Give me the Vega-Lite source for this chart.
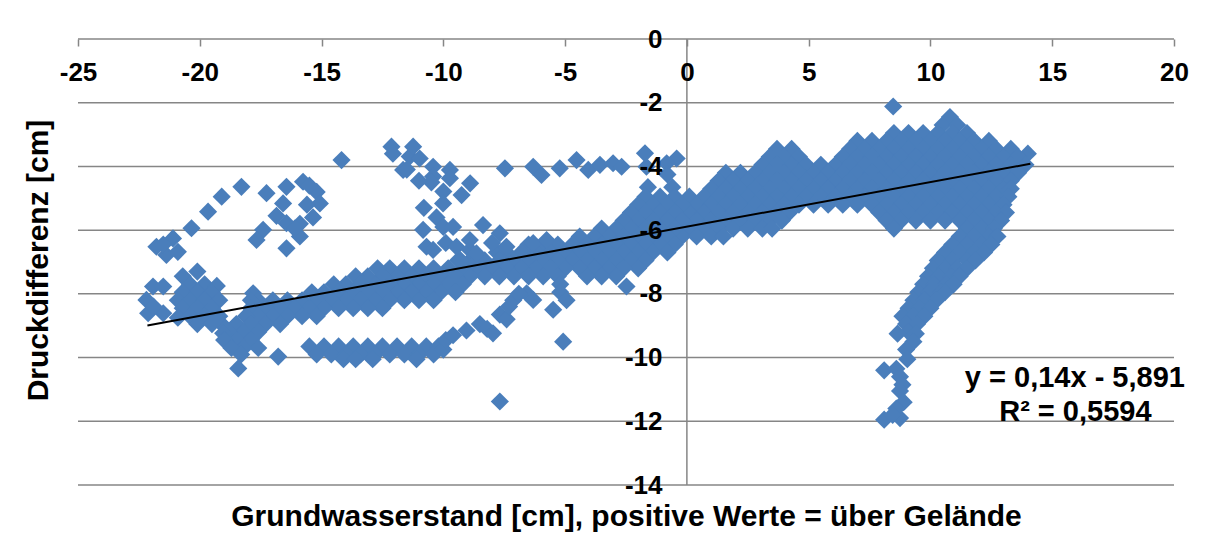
{
"$schema":"https://vega.github.io/schema/vega-lite/v6.json",
"width":1096,"height":446,
"autosize":{"type":"none"},
"padding":{"left":78,"top":39,"right":40,"bottom":63},
"background":"white",
"config":{"view":{"stroke":null},"font":"Liberation Sans"},
"datasets":{
"grid":[{"y":-14},{"y":-12},{"y":-10},{"y":-8},{"y":-6},{"y":-4},{"y":-2},{"y":0}],
"trend":[{"x":-22.15,"y":-8.992},{"x":14.1,"y":-3.917}],
"eq":[{"x":15.93,"y":-10.64,"t":"y = 0,14x - 5,891"},{"x":15.95,"y":-11.71,"t":"R² = 0,5594"}],
"pts":[
{"x":10.8,"y":-2.45},{"x":8.47,"y":-2.12},{"x":10.5,"y":-2.7},{"x":11.1,"y":-2.7},
{"x":8.5,"y":-2.95},{"x":9.1,"y":-2.95},{"x":9.7,"y":-2.95},{"x":10.3,"y":-2.95},{"x":10.9,"y":-2.95},{"x":11.5,"y":-2.95},
{"x":7.0,"y":-3.2},{"x":7.6,"y":-3.2},{"x":8.2,"y":-3.2},{"x":8.8,"y":-3.2},{"x":9.4,"y":-3.2},{"x":10.0,"y":-3.2},{"x":10.6,"y":-3.2},{"x":11.2,"y":-3.2},{"x":11.8,"y":-3.2},{"x":12.4,"y":-3.2},
{"x":3.7,"y":-3.45},{"x":4.3,"y":-3.45},{"x":6.7,"y":-3.45},{"x":7.3,"y":-3.45},{"x":7.9,"y":-3.45},{"x":8.5,"y":-3.45},{"x":9.1,"y":-3.45},{"x":9.7,"y":-3.45},{"x":10.3,"y":-3.45},{"x":10.9,"y":-3.45},{"x":11.5,"y":-3.45},{"x":12.1,"y":-3.45},{"x":12.7,"y":-3.45},{"x":13.3,"y":-3.45},
{"x":14.0,"y":-3.6},
{"x":3.4,"y":-3.7},{"x":4.0,"y":-3.7},{"x":4.6,"y":-3.7},{"x":6.4,"y":-3.7},{"x":7.0,"y":-3.7},{"x":7.6,"y":-3.7},{"x":8.2,"y":-3.7},{"x":8.8,"y":-3.7},{"x":9.4,"y":-3.7},{"x":10.0,"y":-3.7},{"x":10.6,"y":-3.7},{"x":11.2,"y":-3.7},{"x":11.8,"y":-3.7},{"x":12.4,"y":-3.7},{"x":13.0,"y":-3.7},{"x":13.6,"y":-3.7},
{"x":3.1,"y":-3.95},{"x":3.7,"y":-3.95},{"x":4.3,"y":-3.95},{"x":4.9,"y":-3.95},{"x":5.5,"y":-3.95},{"x":6.1,"y":-3.95},{"x":6.7,"y":-3.95},{"x":7.3,"y":-3.95},{"x":7.9,"y":-3.95},{"x":8.5,"y":-3.95},{"x":9.1,"y":-3.95},{"x":9.7,"y":-3.95},{"x":10.3,"y":-3.95},{"x":10.9,"y":-3.95},{"x":11.5,"y":-3.95},{"x":12.1,"y":-3.95},{"x":12.7,"y":-3.95},{"x":13.3,"y":-3.95},{"x":13.9,"y":-3.95},
{"x":1.6,"y":-4.2},{"x":2.2,"y":-4.2},{"x":2.8,"y":-4.2},{"x":3.4,"y":-4.2},{"x":4.0,"y":-4.2},{"x":4.6,"y":-4.2},{"x":5.2,"y":-4.2},{"x":5.8,"y":-4.2},{"x":6.4,"y":-4.2},{"x":7.0,"y":-4.2},{"x":7.6,"y":-4.2},{"x":8.2,"y":-4.2},{"x":8.8,"y":-4.2},{"x":9.4,"y":-4.2},{"x":10.0,"y":-4.2},{"x":10.6,"y":-4.2},{"x":11.2,"y":-4.2},{"x":11.8,"y":-4.2},{"x":12.4,"y":-4.2},{"x":13.0,"y":-4.2},{"x":13.6,"y":-4.2},
{"x":1.3,"y":-4.45},{"x":1.9,"y":-4.45},{"x":2.5,"y":-4.45},{"x":3.1,"y":-4.45},{"x":3.7,"y":-4.45},{"x":4.3,"y":-4.45},{"x":4.9,"y":-4.45},{"x":5.5,"y":-4.45},{"x":6.1,"y":-4.45},{"x":6.7,"y":-4.45},{"x":7.3,"y":-4.45},{"x":7.9,"y":-4.45},{"x":8.5,"y":-4.45},{"x":9.1,"y":-4.45},{"x":9.7,"y":-4.45},{"x":10.3,"y":-4.45},{"x":10.9,"y":-4.45},{"x":11.5,"y":-4.45},{"x":12.1,"y":-4.45},{"x":12.7,"y":-4.45},{"x":13.3,"y":-4.45},
{"x":1.0,"y":-4.7},{"x":1.6,"y":-4.7},{"x":2.2,"y":-4.7},{"x":2.8,"y":-4.7},{"x":3.4,"y":-4.7},{"x":4.0,"y":-4.7},{"x":4.6,"y":-4.7},{"x":5.2,"y":-4.7},{"x":5.8,"y":-4.7},{"x":6.4,"y":-4.7},{"x":7.0,"y":-4.7},{"x":7.6,"y":-4.7},{"x":8.2,"y":-4.7},{"x":8.8,"y":-4.7},{"x":9.4,"y":-4.7},{"x":10.0,"y":-4.7},{"x":10.6,"y":-4.7},{"x":11.2,"y":-4.7},{"x":11.8,"y":-4.7},{"x":12.4,"y":-4.7},{"x":13.0,"y":-4.7},{"x":13.3,"y":-4.7},
{"x":0.1,"y":-4.95},{"x":0.7,"y":-4.95},{"x":1.3,"y":-4.95},{"x":1.9,"y":-4.95},{"x":2.5,"y":-4.95},{"x":3.1,"y":-4.95},{"x":3.7,"y":-4.95},{"x":4.3,"y":-4.95},{"x":4.9,"y":-4.95},{"x":5.5,"y":-4.95},{"x":6.1,"y":-4.95},{"x":6.7,"y":-4.95},{"x":7.3,"y":-4.95},{"x":7.9,"y":-4.95},{"x":8.5,"y":-4.95},{"x":9.1,"y":-4.95},{"x":9.7,"y":-4.95},{"x":10.3,"y":-4.95},{"x":10.9,"y":-4.95},{"x":11.5,"y":-4.95},{"x":12.1,"y":-4.95},{"x":12.7,"y":-4.95},{"x":13.2,"y":-4.95},
{"x":0.4,"y":-5.2},{"x":1.0,"y":-5.2},{"x":1.6,"y":-5.2},{"x":2.2,"y":-5.2},{"x":2.8,"y":-5.2},{"x":3.4,"y":-5.2},{"x":4.0,"y":-5.2},{"x":4.6,"y":-5.2},{"x":5.2,"y":-5.2},{"x":5.8,"y":-5.2},{"x":6.4,"y":-5.2},{"x":7.0,"y":-5.2},{"x":7.6,"y":-5.2},{"x":8.2,"y":-5.2},{"x":8.8,"y":-5.2},{"x":9.4,"y":-5.2},{"x":10.0,"y":-5.2},{"x":10.6,"y":-5.2},{"x":11.2,"y":-5.2},{"x":11.8,"y":-5.2},{"x":12.4,"y":-5.2},{"x":13.0,"y":-5.2},
{"x":0.1,"y":-5.45},{"x":0.7,"y":-5.45},{"x":1.3,"y":-5.45},{"x":1.9,"y":-5.45},{"x":2.5,"y":-5.45},{"x":3.1,"y":-5.45},{"x":3.7,"y":-5.45},{"x":4.2,"y":-5.45},{"x":7.9,"y":-5.45},{"x":8.5,"y":-5.45},{"x":9.1,"y":-5.45},{"x":9.7,"y":-5.45},{"x":10.3,"y":-5.45},{"x":10.9,"y":-5.45},{"x":11.5,"y":-5.45},{"x":12.1,"y":-5.45},{"x":12.7,"y":-5.45},{"x":13.1,"y":-5.45},
{"x":0.4,"y":-5.7},{"x":1.0,"y":-5.7},{"x":1.6,"y":-5.7},{"x":2.2,"y":-5.7},{"x":2.8,"y":-5.7},{"x":3.4,"y":-5.7},{"x":3.9,"y":-5.7},{"x":8.2,"y":-5.7},{"x":8.8,"y":-5.7},{"x":9.4,"y":-5.7},{"x":10.0,"y":-5.7},{"x":10.6,"y":-5.7},{"x":11.2,"y":-5.7},{"x":11.8,"y":-5.7},{"x":12.4,"y":-5.7},{"x":12.9,"y":-5.7},
{"x":0.1,"y":-5.95},{"x":0.7,"y":-5.95},{"x":1.3,"y":-5.95},{"x":1.9,"y":-5.95},{"x":2.5,"y":-5.95},{"x":3.1,"y":-5.95},{"x":3.5,"y":-5.95},{"x":8.5,"y":-5.95},{"x":11.5,"y":-5.95},{"x":12.1,"y":-5.95},{"x":12.6,"y":-5.95},
{"x":-0.2,"y":-6.2},{"x":0.4,"y":-6.2},{"x":1.0,"y":-6.2},{"x":1.5,"y":-6.2},{"x":11.2,"y":-6.2},{"x":11.8,"y":-6.2},{"x":12.4,"y":-6.2},{"x":12.75,"y":-6.2},
{"x":10.9,"y":-6.45},{"x":11.5,"y":-6.45},{"x":12.1,"y":-6.45},{"x":12.5,"y":-6.45},
{"x":10.6,"y":-6.7},{"x":11.2,"y":-6.7},{"x":11.8,"y":-6.7},{"x":12.2,"y":-6.7},
{"x":10.3,"y":-6.95},{"x":10.9,"y":-6.95},{"x":11.5,"y":-6.95},{"x":11.85,"y":-6.95},
{"x":10.1,"y":-7.2},{"x":10.6,"y":-7.2},{"x":11.1,"y":-7.2},{"x":11.5,"y":-7.2},
{"x":9.9,"y":-7.45},{"x":10.35,"y":-7.45},{"x":10.85,"y":-7.45},{"x":11.2,"y":-7.45},
{"x":9.7,"y":-7.7},{"x":10.15,"y":-7.7},{"x":10.65,"y":-7.7},{"x":10.95,"y":-7.7},
{"x":9.5,"y":-7.95},{"x":9.95,"y":-7.95},{"x":10.45,"y":-7.95},{"x":10.6,"y":-7.95},
{"x":9.3,"y":-8.2},{"x":9.75,"y":-8.2},{"x":10.25,"y":-8.2},
{"x":9.1,"y":-8.45},{"x":9.55,"y":-8.45},{"x":10.0,"y":-8.45},
{"x":8.85,"y":-8.7},{"x":9.3,"y":-8.7},{"x":9.75,"y":-8.7},
{"x":9.0,"y":-8.95},{"x":9.45,"y":-8.95},
{"x":9.1,"y":-9.2},{"x":8.65,"y":-9.25},{"x":9.4,"y":-9.25},{"x":9.3,"y":-9.5},{"x":9.0,"y":-9.75},{"x":9.05,"y":-10.05},{"x":8.1,"y":-10.4},{"x":8.6,"y":-10.35},{"x":8.75,"y":-10.6},{"x":8.85,"y":-10.85},{"x":8.75,"y":-11.05},{"x":8.9,"y":-11.4},{"x":8.6,"y":-11.6},{"x":8.1,"y":-11.95},{"x":8.75,"y":-11.9},{"x":8.45,"y":-11.8},
{"x":-0.42,"y":-3.75},{"x":-0.83,"y":-3.9},{"x":-1.72,"y":-3.59},{"x":-1.66,"y":-4.01},{"x":-0.8,"y":-4.25},{"x":-1.6,"y":-4.65},{"x":-0.6,"y":-4.65},
{"x":-0.5,"y":-4.95},{"x":-1.1,"y":-4.95},{"x":-1.7,"y":-4.95},
{"x":-0.2,"y":-5.2},{"x":-0.8,"y":-5.2},{"x":-1.4,"y":-5.2},{"x":-2.0,"y":-5.2},
{"x":-0.5,"y":-5.45},{"x":-1.1,"y":-5.45},{"x":-1.7,"y":-5.45},{"x":-2.3,"y":-5.45},
{"x":-0.2,"y":-5.7},{"x":-0.8,"y":-5.7},{"x":-1.4,"y":-5.7},{"x":-2.0,"y":-5.7},{"x":-2.6,"y":-5.7},
{"x":-0.5,"y":-5.95},{"x":-1.1,"y":-5.95},{"x":-1.7,"y":-5.95},{"x":-2.3,"y":-5.95},{"x":-2.9,"y":-5.95},{"x":-3.5,"y":-5.95},
{"x":-0.8,"y":-6.2},{"x":-1.4,"y":-6.2},{"x":-2.0,"y":-6.2},{"x":-2.6,"y":-6.2},{"x":-3.2,"y":-6.2},{"x":-3.8,"y":-6.2},{"x":-4.4,"y":-6.2},
{"x":-0.5,"y":-6.45},{"x":-1.1,"y":-6.45},{"x":-1.7,"y":-6.45},{"x":-2.3,"y":-6.45},{"x":-2.9,"y":-6.45},{"x":-3.5,"y":-6.45},{"x":-4.1,"y":-6.45},{"x":-4.7,"y":-6.45},{"x":-5.3,"y":-6.45},{"x":-5.9,"y":-6.45},{"x":-6.5,"y":-6.45},
{"x":-0.8,"y":-6.7},{"x":-1.4,"y":-6.7},{"x":-2.0,"y":-6.7},{"x":-2.6,"y":-6.7},{"x":-3.2,"y":-6.7},{"x":-3.8,"y":-6.7},{"x":-4.4,"y":-6.7},{"x":-5.0,"y":-6.7},{"x":-5.6,"y":-6.7},{"x":-6.2,"y":-6.7},{"x":-6.8,"y":-6.7},{"x":-7.4,"y":-6.7},{"x":-7.8,"y":-6.7},
{"x":-1.7,"y":-6.95},{"x":-2.3,"y":-6.95},{"x":-2.9,"y":-6.95},{"x":-3.5,"y":-6.95},{"x":-4.1,"y":-6.95},{"x":-4.7,"y":-6.95},{"x":-5.3,"y":-6.95},{"x":-5.9,"y":-6.95},{"x":-6.5,"y":-6.95},{"x":-7.1,"y":-6.95},{"x":-7.7,"y":-6.95},{"x":-8.3,"y":-6.95},{"x":-8.9,"y":-6.95},{"x":-9.4,"y":-6.95},
{"x":-2.0,"y":-7.2},{"x":-2.6,"y":-7.2},{"x":-3.2,"y":-7.2},{"x":-3.8,"y":-7.2},{"x":-4.4,"y":-7.2},{"x":-5.0,"y":-7.2},{"x":-5.6,"y":-7.2},{"x":-6.2,"y":-7.2},{"x":-6.8,"y":-7.2},{"x":-7.4,"y":-7.2},{"x":-8.0,"y":-7.2},{"x":-8.6,"y":-7.2},{"x":-9.2,"y":-7.2},{"x":-9.8,"y":-7.2},{"x":-10.4,"y":-7.2},{"x":-11.0,"y":-7.2},{"x":-11.6,"y":-7.2},{"x":-12.2,"y":-7.2},{"x":-12.7,"y":-7.2},
{"x":-2.9,"y":-7.45},{"x":-3.5,"y":-7.45},{"x":-4.1,"y":-7.45},{"x":-5.3,"y":-7.45},{"x":-5.9,"y":-7.45},{"x":-6.5,"y":-7.45},{"x":-7.1,"y":-7.45},{"x":-7.7,"y":-7.45},{"x":-8.3,"y":-7.45},{"x":-8.9,"y":-7.45},{"x":-9.5,"y":-7.45},{"x":-10.1,"y":-7.45},{"x":-10.7,"y":-7.45},{"x":-11.3,"y":-7.45},{"x":-11.9,"y":-7.45},{"x":-12.5,"y":-7.45},{"x":-13.1,"y":-7.45},{"x":-13.6,"y":-7.45},
{"x":-2.48,"y":-7.77},{"x":-5.2,"y":-7.7},{"x":-9.2,"y":-7.7},{"x":-9.8,"y":-7.7},{"x":-10.4,"y":-7.7},{"x":-11.0,"y":-7.7},{"x":-11.6,"y":-7.7},{"x":-12.2,"y":-7.7},{"x":-12.8,"y":-7.7},{"x":-13.4,"y":-7.7},{"x":-14.0,"y":-7.7},{"x":-14.5,"y":-7.7},
{"x":-5.2,"y":-7.95},{"x":-9.5,"y":-7.95},{"x":-10.1,"y":-7.95},{"x":-10.7,"y":-7.95},{"x":-11.3,"y":-7.95},{"x":-11.9,"y":-7.95},{"x":-12.5,"y":-7.95},{"x":-13.1,"y":-7.95},{"x":-13.7,"y":-7.95},{"x":-14.3,"y":-7.95},{"x":-14.9,"y":-7.95},{"x":-15.4,"y":-7.95},{"x":-17.81,"y":-7.98},
{"x":-4.94,"y":-8.2},{"x":-10.4,"y":-8.2},{"x":-11.0,"y":-8.2},{"x":-11.6,"y":-8.2},{"x":-12.2,"y":-8.2},{"x":-12.8,"y":-8.2},{"x":-13.4,"y":-8.2},{"x":-14.0,"y":-8.2},{"x":-14.6,"y":-8.2},{"x":-15.2,"y":-8.2},{"x":-15.8,"y":-8.2},{"x":-16.4,"y":-8.2},{"x":-17.0,"y":-8.2},{"x":-17.6,"y":-8.2},{"x":-17.9,"y":-8.2},
{"x":-5.49,"y":-8.5},{"x":-12.5,"y":-8.45},{"x":-13.1,"y":-8.45},{"x":-13.7,"y":-8.45},{"x":-14.3,"y":-8.45},{"x":-14.9,"y":-8.45},{"x":-15.5,"y":-8.45},{"x":-16.1,"y":-8.45},{"x":-16.7,"y":-8.45},{"x":-17.3,"y":-8.45},{"x":-17.9,"y":-8.45},
{"x":-15.2,"y":-8.7},{"x":-15.8,"y":-8.7},{"x":-16.4,"y":-8.7},{"x":-17.0,"y":-8.7},{"x":-17.6,"y":-8.7},{"x":-18.1,"y":-8.7},
{"x":-16.7,"y":-8.95},{"x":-17.3,"y":-8.95},{"x":-17.9,"y":-8.95},{"x":-18.5,"y":-8.95},{"x":-19.1,"y":-8.95},
{"x":-17.6,"y":-9.2},{"x":-18.2,"y":-9.2},{"x":-18.8,"y":-9.2},{"x":-19.04,"y":-9.24},
{"x":-17.9,"y":-9.45},{"x":-18.5,"y":-9.45},{"x":-19.0,"y":-9.45},
{"x":-17.6,"y":-9.7},{"x":-18.2,"y":-9.7},{"x":-18.7,"y":-9.7},{"x":-18.3,"y":-9.9},{"x":-18.42,"y":-10.34},{"x":-16.78,"y":-9.97},
{"x":-20.7,"y":-7.45},{"x":-20.1,"y":-7.3},
{"x":-20.4,"y":-7.7},{"x":-19.8,"y":-7.7},{"x":-19.3,"y":-7.75},
{"x":-20.7,"y":-7.95},{"x":-20.1,"y":-7.95},{"x":-19.5,"y":-7.95},
{"x":-20.9,"y":-8.2},{"x":-20.4,"y":-8.2},{"x":-19.8,"y":-8.2},{"x":-19.2,"y":-8.2},
{"x":-20.7,"y":-8.45},{"x":-20.1,"y":-8.45},{"x":-19.5,"y":-8.45},
{"x":-20.9,"y":-8.75},{"x":-20.4,"y":-8.7},{"x":-19.8,"y":-8.7},{"x":-19.2,"y":-8.7},
{"x":-20.1,"y":-8.95},{"x":-19.5,"y":-8.95},
{"x":-21.92,"y":-7.77},{"x":-22.19,"y":-8.19},{"x":-22.12,"y":-8.61},{"x":-21.5,"y":-8.61},{"x":-21.5,"y":-7.77},{"x":-21.9,"y":-8.4},
{"x":-18.29,"y":-4.64},{"x":-19.1,"y":-4.95},{"x":-19.66,"y":-5.42},{"x":-20.34,"y":-5.94},{"x":-21.1,"y":-6.26},{"x":-21.78,"y":-6.52},{"x":-21.37,"y":-6.78},{"x":-20.9,"y":-6.68},{"x":-21.5,"y":-6.45},
{"x":-17.26,"y":-4.84},{"x":-16.44,"y":-4.64},{"x":-15.76,"y":-4.48},{"x":-15.2,"y":-4.8},{"x":-15.07,"y":-5.16},{"x":-15.35,"y":-5.6},{"x":-15.89,"y":-5.8},{"x":-16.44,"y":-5.78},{"x":-16.85,"y":-5.55},{"x":-17.4,"y":-5.99},{"x":-17.67,"y":-6.31},{"x":-15.89,"y":-6.2},{"x":-16.44,"y":-6.57},{"x":-15.6,"y":-5.2},{"x":-16.58,"y":-5.16},{"x":-15.5,"y":-4.6},{"x":-16.1,"y":-5.95},
{"x":-14.18,"y":-3.8},{"x":-12.13,"y":-3.38},{"x":-12.07,"y":-3.6},{"x":-11.38,"y":-3.69},{"x":-11.65,"y":-4.11},{"x":-11.5,"y":-4.1},{"x":-11.24,"y":-3.38},{"x":-10.97,"y":-3.75},{"x":-10.42,"y":-4.01},{"x":-10.42,"y":-4.32},{"x":-10.49,"y":-4.5},{"x":-9.73,"y":-4.11},{"x":-9.73,"y":-4.37},{"x":-10.0,"y":-4.79},{"x":-9.25,"y":-4.9},{"x":-8.9,"y":-4.53},{"x":-11.0,"y":-4.45},{"x":-10.01,"y":-5.16},{"x":-10.28,"y":-5.6},{"x":-10.8,"y":-5.3},{"x":-10.83,"y":-5.99},{"x":-10.69,"y":-6.52},{"x":-10.42,"y":-6.62},{"x":-10.0,"y":-5.9},{"x":-9.6,"y":-5.9},{"x":-9.9,"y":-6.4},{"x":-9.46,"y":-6.52},{"x":-8.91,"y":-6.62},{"x":-9.3,"y":-6.94},{"x":-8.37,"y":-5.84},{"x":-7.68,"y":-6.1},{"x":-8.91,"y":-6.31},{"x":-8.64,"y":-6.73},{"x":-7.41,"y":-6.52},{"x":-6.31,"y":-6.41},{"x":-5.76,"y":-6.31},{"x":-8.0,"y":-6.4},
{"x":-7.47,"y":-4.06},{"x":-6.31,"y":-4.01},{"x":-5.97,"y":-4.27},{"x":-5.22,"y":-4.06},{"x":-4.53,"y":-3.8},{"x":-4.05,"y":-4.11},{"x":-3.57,"y":-3.95},{"x":-3.03,"y":-3.9},{"x":-2.68,"y":-4.01},
{"x":-5.08,"y":-9.5},{"x":-7.68,"y":-11.38},
{"x":-15.5,"y":-9.65},{"x":-14.9,"y":-9.65},{"x":-14.3,"y":-9.65},{"x":-13.7,"y":-9.65},{"x":-13.1,"y":-9.65},{"x":-12.5,"y":-9.65},{"x":-11.9,"y":-9.65},{"x":-11.3,"y":-9.65},{"x":-10.7,"y":-9.65},{"x":-10.2,"y":-9.65},
{"x":-15.2,"y":-9.9},{"x":-14.6,"y":-9.9},{"x":-14.0,"y":-9.9},{"x":-13.4,"y":-9.9},{"x":-12.8,"y":-9.9},{"x":-12.2,"y":-9.9},{"x":-11.6,"y":-9.9},{"x":-11.0,"y":-9.9},{"x":-10.4,"y":-9.9},
{"x":-14.1,"y":-10.05},{"x":-13.6,"y":-10.05},{"x":-12.9,"y":-10.05},{"x":-11.1,"y":-10.05},
{"x":-10.0,"y":-9.75},{"x":-9.9,"y":-9.45},{"x":-9.6,"y":-9.3},{"x":-9.05,"y":-9.15},{"x":-8.5,"y":-8.95},{"x":-8.2,"y":-9.1},{"x":-7.96,"y":-9.24},{"x":-7.68,"y":-8.65},{"x":-7.4,"y":-8.8},{"x":-7.3,"y":-8.4},{"x":-7.13,"y":-8.2},{"x":-6.58,"y":-7.98},{"x":-6.31,"y":-8.19},{"x":-6.9,"y":-8.0}
]},
"layer":[
{"data":{"name":"grid"},"mark":{"type":"rule","color":"#868686","strokeWidth":1.5},
 "encoding":{"y":{"field":"y","type":"quantitative","scale":{"domain":[-14,0],"nice":false,"zero":false}}}},
{"data":{"values":[{"x":0}]},"mark":{"type":"rule","color":"#868686","strokeWidth":1.5},
 "encoding":{"x":{"field":"x","type":"quantitative"}}},
{"data":{"name":"pts"},"mark":{"type":"point","shape":"diamond","filled":true,"size":330,"color":"#4a7ebb","opacity":1,"strokeWidth":0},
 "encoding":{
  "x":{"field":"x","type":"quantitative","scale":{"domain":[-25,20],"nice":false,"zero":false},
   "axis":{"orient":"bottom","offset":-446,"values":[-25,-20,-15,-10,-5,0,5,10,15,20],"grid":false,"domain":false,
    "labelExpr":"'' + datum.value",
    "tickColor":"#868686","tickSize":7,"tickWidth":1.5,"labelFont":"Liberation Sans","labelFontWeight":"bold","labelFontSize":26,"labelColor":"black","labelPadding":13,"labelFlush":false,"labelOverlap":false,
    "title":"Grundwasserstand [cm], positive Werte  = über Gelände","titleFont":"Liberation Sans","titleFontSize":30,"titleFontWeight":"bold","titleColor":"black","titleY":477,"titleBaseline":"middle","zindex":1}},
  "y":{"field":"y","type":"quantitative","scale":{"domain":[-14,0],"nice":false,"zero":false},
   "axis":{"orient":"left","offset":-609,"values":[-14,-12,-10,-8,-6,-4,-2,0],"grid":false,"domain":false,"ticks":false,"tickSize":0,
    "labelExpr":"'' + datum.value",
    "labelFont":"Liberation Sans","labelFontWeight":"bold","labelFontSize":26,"labelColor":"black","labelPadding":25,"labelFlush":false,"labelOverlap":false,
    "title":"Druckdifferenz [cm]","titleFont":"Liberation Sans","titleFontSize":30,"titleFontWeight":"bold","titleColor":"black","titleX":-649,"titleY":221,"titleBaseline":"middle","titleAngle":270,"zindex":1}}
 }},
{"data":{"name":"trend"},"mark":{"type":"line","color":"black","strokeWidth":2},
 "encoding":{"x":{"field":"x","type":"quantitative"},"y":{"field":"y","type":"quantitative"}}},
{"data":{"name":"eq"},"mark":{"type":"text","font":"Liberation Sans","fontSize":29,"fontWeight":"bold","align":"center","baseline":"middle","color":"black"},
 "encoding":{"x":{"field":"x","type":"quantitative"},"y":{"field":"y","type":"quantitative"},"text":{"field":"t"}}}
]
}
